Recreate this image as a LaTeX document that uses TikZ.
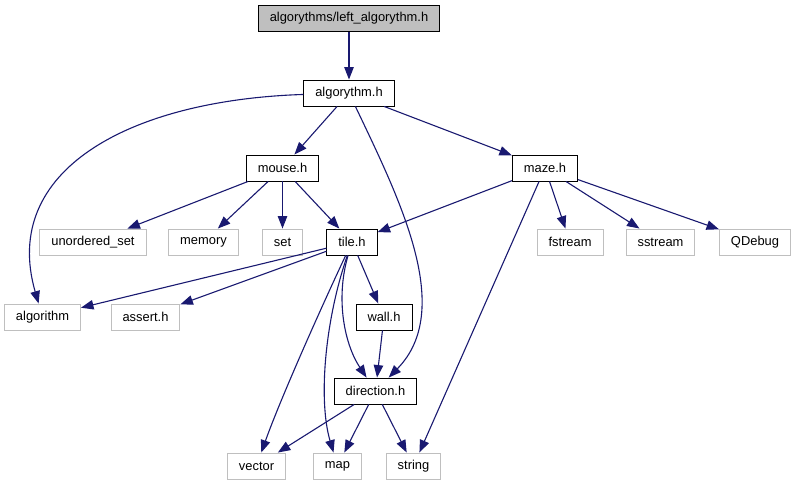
\documentclass[tikz,border=0pt]{standalone}
\usepackage{fontspec}
\setmainfont{Liberation Sans}
\usetikzlibrary{arrows.meta}

\definecolor{navyline}{RGB}{25,25,112}
\definecolor{graybox}{RGB}{191,191,191}

\tikzset{
  hdr/.style={draw=black, fill=white, line width=0.9pt,
    font=\fontsize{12.9}{15}\selectfont,
    minimum height=26pt, inner xsep=11.5pt, inner ysep=0pt},
  rootbox/.style={hdr, fill=graybox},
  sysbox/.style={hdr, draw=graybox},
  dep/.style={draw=navyline, line width=1.1pt,
    -{Triangle[length=12.5pt,width=9.5pt]}}
}

\begin{document}
\begin{tikzpicture}[x=1pt, y=-1pt]

  \useasboundingbox (0,0) rectangle (796,485);

  % Top file
  \node[rootbox] (root) at (349,18.5) {algorythms/left\_algorythm.h};

  % Project headers
  \node[hdr] (algorythm) at (349,93) {algorythm.h};
  \node[hdr] (mouse) at (282.5,168) {mouse.h};
  \node[hdr] (maze) at (545,168) {maze.h};
  \node[hdr] (tile) at (352,242) {tile.h};
  \node[hdr] (wall) at (384,317) {wall.h};
  \node[hdr] (direction) at (375.5,391) {direction.h};

  % System headers
  \node[sysbox] (uset) at (93,242) {unordered\_set};
  \node[sysbox] (memory) at (203.5,242) {memory};
  \node[sysbox] (set) at (282.5,242) {set};
  \node[sysbox] (fstream) at (570,242) {fstream};
  \node[sysbox] (sstream) at (660.5,242) {sstream};
  \node[sysbox] (qdebug) at (755,242) {QDebug};
  \node[sysbox] (algorithm) at (42.5,317) {algorithm};
  \node[sysbox] (assert) at (145.5,317) {assert.h};
  \node[sysbox] (vector) at (256.5,466) {vector};
  \node[sysbox] (map) at (337.5,466) {map};
  \node[sysbox] (string) at (413.5,466) {string};

  % Includes of the top file and algorythm.h
  \draw[dep] (root) -- (algorythm);
  \draw[dep] (algorythm) -- (mouse);
  \draw[dep] (algorythm) -- (maze);
  \draw[dep] (algorythm) .. controls (130,100) and (0,170) .. (algorithm);
  \draw[dep] (algorythm) .. controls (400,200) and (455,310) .. (direction);

  % Includes of mouse.h
  \draw[dep] (mouse) -- (uset);
  \draw[dep] (mouse) -- (memory);
  \draw[dep] (mouse) -- (set);
  \draw[dep] (mouse) -- (tile);

  % Includes of maze.h
  \draw[dep] (maze) -- (tile);
  \draw[dep] (maze) -- (fstream);
  \draw[dep] (maze) -- (sstream);
  \draw[dep] (maze) -- (qdebug);
  \draw[dep] (maze) -- (string);

  % Includes of tile.h
  \draw[dep] (tile) -- (algorithm);
  \draw[dep] (tile) -- (assert);
  \draw[dep] (tile) -- (wall);
  \draw[dep] (tile) .. controls (335,300) and (345,345) .. (direction);
  \draw[dep] (tile) .. controls (320,310) and (280,400) .. (vector);
  \draw[dep] (tile) .. controls (325,320) and (318,400) .. (map);

  % Includes of wall.h and direction.h
  \draw[dep] (wall) -- (direction);
  \draw[dep] (direction) -- (vector);
  \draw[dep] (direction) -- (map);
  \draw[dep] (direction) -- (string);

\end{tikzpicture}
\end{document}
